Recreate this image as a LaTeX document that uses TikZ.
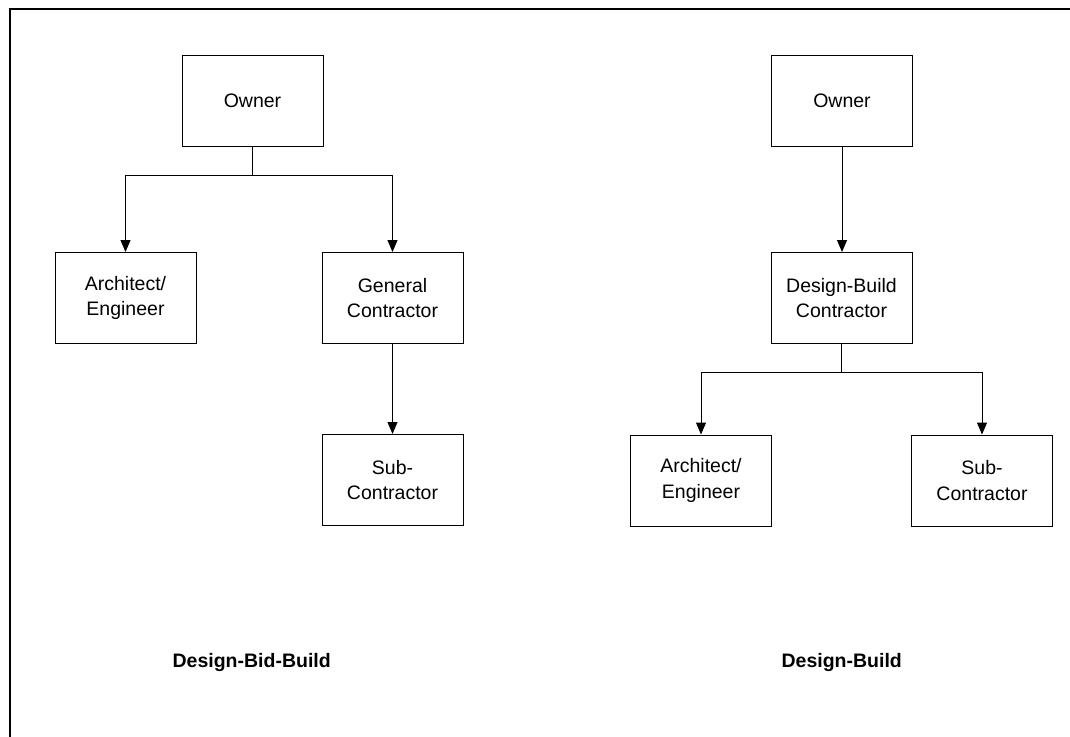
\documentclass[tikz,border=0pt]{standalone}
\usepackage{fontspec}
\setmainfont{Liberation Sans}
\usetikzlibrary{arrows.meta}
\begin{document}
\begin{tikzpicture}[x=1pt,y=-1pt,
  orgbox/.style={draw,line width=1pt,minimum width=141pt,minimum height=91pt,
    align=center,inner sep=0pt,font=\fontsize{19.5}{25.5}\selectfont},
  link/.style={line width=1pt},
  arr/.style={link,-{Triangle[width=10pt,length=12pt]}},
  caption/.style={font=\fontsize{19.5}{23}\selectfont\bfseries},
  frameline/.style={line width=2pt}]
\useasboundingbox (0,0) rectangle (1070,736);
% outer frame (top and left edges)
\coordinate (ftl) at (10,9);
\coordinate (ftr) at (1071,9);
\coordinate (fbl) at (10,737);
\draw[frameline] (ftr) -- (ftl) -- (fbl);

% Design-Bid-Build
\node[orgbox] (lowner) at (252.5,100.5) {Owner};
\node[orgbox] (lae)    at (125.5,298)   {Architect/\\Engineer};
\node[orgbox] (lgc)    at (392.5,298)   {General\\Contractor};
\node[orgbox] (lsub)   at (392.5,480)   {Sub-\\Contractor};
\coordinate (lbus) at (252.5,175.5);
\draw[link] (lowner.south) -- (lbus);
\draw[arr] (lbus) -| (lae.north);
\draw[arr] (lbus) -| (lgc.north);
\draw[arr] (lgc.south) -- (lsub.north);
\node[caption] (lcap) at (251.7,662) {Design-Bid-Build};

% Design-Build
\node[orgbox] (rowner) at (842,100.5) {Owner};
\node[orgbox] (rdb)    at (841.5,298) {Design-Build\\Contractor};
\node[orgbox] (rae)    at (701,480.5) {Architect/\\Engineer};
\node[orgbox] (rsub)   at (982,480.5) {Sub-\\Contractor};
\coordinate (rbus) at (841.5,372.7);
\draw[arr] (rowner.south) -- (rowner.south |- rdb.north);
\draw[link] (rdb.south) -- (rbus);
\draw[arr] (rbus) -| (rae.north);
\draw[arr] (rbus) -| (rsub.north);
\node[caption] (rcap) at (841.7,662) {Design-Build};
\end{tikzpicture}
\end{document}
